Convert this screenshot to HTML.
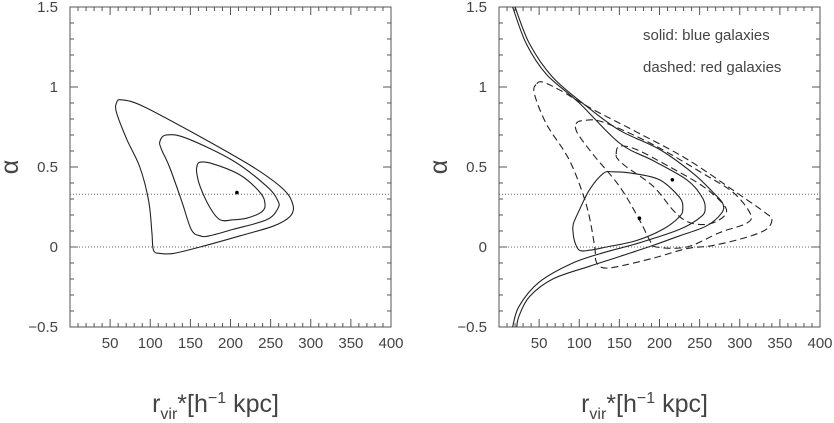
<!DOCTYPE html>
<html><head><meta charset="utf-8"><style>
body{margin:0;background:#fff}
svg{display:block;font-family:"Liberation Sans",sans-serif}
.tl{font-size:15px;fill:#444}
.tt{font-size:25px;fill:#444}
</style></head><body>
<svg id="c" width="834" height="423" viewBox="0 0 834 423"></svg>
<script>
const xTicks=[50,100,150,200,250,300,350,400];
const yTicks=[-0.5,0,0.5,1,1.5];
const refLines=[0,0.33];
const leftOuter=[[58,0.90],[64,0.92],[91,0.88],[162,0.69],[228,0.50],[266,0.36],[278,0.26],[274,0.19],[253,0.13],[212,0.07],[162,0.0],[129,-0.04],[112,-0.04],[104,-0.02],[102,0.09],[98,0.29],[87,0.50],[71,0.67],[58,0.84]];
const leftMid=[[112,0.66],[120,0.70],[145,0.68],[203,0.54],[245,0.38],[259,0.29],[259,0.24],[245,0.17],[203,0.11],[174,0.07],[162,0.07],[151,0.11],[139,0.29],[124,0.50],[114,0.61]];
const leftInner=[[158,0.50],[162,0.53],[178,0.52],[212,0.45],[237,0.34],[243,0.27],[239,0.22],[220,0.18],[203,0.17],[187,0.17],[174,0.25],[162,0.38],[158,0.46]];
const leftBest=[208,0.34];
const blueOpenA=[[20,1.5],[38,1.27],[67,1.06],[109,0.88],[150,0.73],[200,0.61],[242,0.46],[267,0.34],[279,0.27],[277,0.21],[258,0.13],[225,0.07],[192,0.01],[150,-0.06],[113,-0.12],[67,-0.20],[38,-0.31],[25,-0.43],[22,-0.5]];
const blueOpenB=[[17,1.5],[34,1.27],[59,1.08],[100,0.90],[150,0.65],[192,0.54],[234,0.42],[252,0.32],[257,0.25],[252,0.19],[225,0.11],[171,0.02],[134,-0.03],[92,-0.10],[50,-0.22],[25,-0.37],[17,-0.5]];
const blueClosed=[[92,0.11],[94,0.04],[100,-0.02],[113,-0.02],[134,0.0],[171,0.04],[204,0.11],[225,0.19],[229,0.24],[225,0.31],[200,0.42],[167,0.46],[142,0.47],[130,0.46],[113,0.36],[100,0.23],[93,0.15]];
const redOuter=[[47,1.02],[55,1.03],[76,0.98],[117,0.86],[171,0.72],[234,0.55],[296,0.34],[333,0.21],[340,0.17],[333,0.11],[308,0.06],[267,0.01],[234,-0.01],[192,-0.07],[150,-0.12],[130,-0.13],[121,-0.09],[119,0.01],[109,0.26],[88,0.54],[59,0.77],[44,0.96]];
const redMid=[[96,0.77],[105,0.79],[130,0.78],[192,0.64],[254,0.46],[292,0.34],[313,0.21],[309,0.15],[275,0.09],[234,0.0],[196,0.0],[188,0.04],[175,0.17],[150,0.38],[117,0.58],[98,0.71]];
const redInner=[[146,0.58],[150,0.63],[171,0.61],[213,0.50],[254,0.38],[279,0.27],[283,0.21],[271,0.16],[254,0.14],[234,0.16],[217,0.23],[192,0.38],[159,0.50],[148,0.55]];
const blueBest=[216,0.42];
const redBest=[175,0.18];

const svg=document.getElementById('c');
const NS='http://www.w3.org/2000/svg';
function mk(tag,attrs,parent){const e=document.createElementNS(NS,tag);for(const k in attrs)e.setAttribute(k,attrs[k]);(parent||svg).appendChild(e);return e;}
const yTop=7,yBot=327;
function Y(v){return yBot-(v+0.5)*(yBot-yTop)/2;}
function path(pts,X,closed){
  const P=pts.map(p=>[X(p[0]),Y(p[1])]);const n=P.length;
  let d='M'+P[0][0]+','+P[0][1];
  const cnt=closed?n:n-1;
  for(let i=0;i<cnt;i++){
    const p0=P[closed?(i-1+n)%n:Math.max(i-1,0)],p1=P[i],p2=P[(i+1)%n],p3=P[closed?(i+2)%n:Math.min(i+2,n-1)];
    const c1=[p1[0]+(p2[0]-p0[0])/6,p1[1]+(p2[1]-p0[1])/6],c2=[p2[0]-(p3[0]-p1[0])/6,p2[1]-(p3[1]-p1[1])/6];
    d+=`C${c1[0].toFixed(1)},${c1[1].toFixed(1)} ${c2[0].toFixed(1)},${c2[1].toFixed(1)} ${p2[0].toFixed(1)},${p2[1].toFixed(1)}`;
  }
  return d+(closed?'Z':'');
}
function panel(x0,x1,name){
  const X=v=>x0+v*(x1-x0)/400;
  const g=mk('g',{});
  
  
  const clip=mk('clipPath',{id:'cl'+name},g);mk('rect',{x:x0,y:yTop,width:x1-x0,height:yBot-yTop},clip);
  const fr=mk('rect',{x:x0,y:yTop,width:x1-x0,height:yBot-yTop,fill:'none',stroke:'#555','stroke-width':1},g);
  
  
  for(let v=10;v<400;v+=10){const tl=v%50===0?8:4;
    mk('line',{x1:X(v),x2:X(v),y1:yBot,y2:yBot-tl,stroke:'#555'},g);mk('line',{x1:X(v),x2:X(v),y1:yTop,y2:yTop+tl,stroke:'#555'},g);}
  for(let i=1;i<20;i++){const v=-0.5+i*0.1;const tl=i%5===0?8:4;
    mk('line',{x1:x0,x2:x0+tl,y1:Y(v),y2:Y(v),stroke:'#555'},g);mk('line',{x1:x1,x2:x1-tl,y1:Y(v),y2:Y(v),stroke:'#555'},g);}
  xTicks.forEach(v=>{const t=mk('text',{x:X(v),y:348,'text-anchor':'middle',class:'tl'},g);t.textContent=v;
    
    });
  yTicks.forEach(v=>{const t=mk('text',{x:x0-12,y:Y(v)+5,'text-anchor':'end',class:'tl'},g);t.textContent=v<0?'\u2212'+(-v):String(v);
    
    });
  refLines.forEach(v=>{const l=mk('line',{x1:x0,x2:x1,y1:Y(v),y2:Y(v),stroke:'#666','stroke-dasharray':'1,2'},g);
    
    });
  const yt=mk('text',{x:0,y:0,class:'tt',transform:`translate(${x0-52},${Y(0.5)}) rotate(-90)`,'text-anchor':'middle'},g);
  yt.textContent='\u03b1';
  
  
  const xt=mk('text',{x:(x0+x1)/2-15,y:412,class:'tt','text-anchor':'middle'},g);
  xt.innerHTML='r<tspan font-size="16" dy="7">vir</tspan><tspan dy="-7">*[h</tspan><tspan font-size="16" dy="-9">\u22121</tspan><tspan dy="9"> kpc]</tspan>';
  
  
  const cg=mk('g',{'clip-path':`url(#cl${name})`},g);
  return {X,cg};
}
function curve(p,pts,closed,dash,nm){const e=mk('path',{d:path(pts,p.X,closed),fill:'none',stroke:'#222','stroke-width':1.1,'stroke-dasharray':dash||'none'},p.cg);
  
  }
function dot(p,pt,nm){const e=mk('circle',{cx:p.X(pt[0]),cy:Y(pt[1]),r:1.8,fill:'#000'},p.cg);
  
  }
const PL=panel(70,391,'left-panel');
curve(PL,leftOuter,true,null,'contour-outer');curve(PL,leftMid,true,null,'contour-middle');curve(PL,leftInner,true,null,'contour-inner');
dot(PL,leftBest,'best-fit-point');
const PR=panel(499,820,'right-panel');
curve(PR,blueOpenA,false,null,'blue-contour-outer');curve(PR,blueOpenB,false,null,'blue-contour-middle');curve(PR,blueClosed,true,null,'blue-contour-inner');
curve(PR,redOuter,true,'7,4','red-contour-outer');curve(PR,redMid,true,'7,4','red-contour-middle');curve(PR,redInner,true,'7,4','red-contour-inner');
dot(PR,blueBest,'blue-best-fit');dot(PR,redBest,'red-best-fit');
const l1=mk('text',{x:643,y:40,class:'tl','font-size':'14'});l1.textContent='solid: blue galaxies';


const l2=mk('text',{x:643,y:72,class:'tl','font-size':'14'});l2.textContent='dashed: red galaxies';


</script>
</body></html>
